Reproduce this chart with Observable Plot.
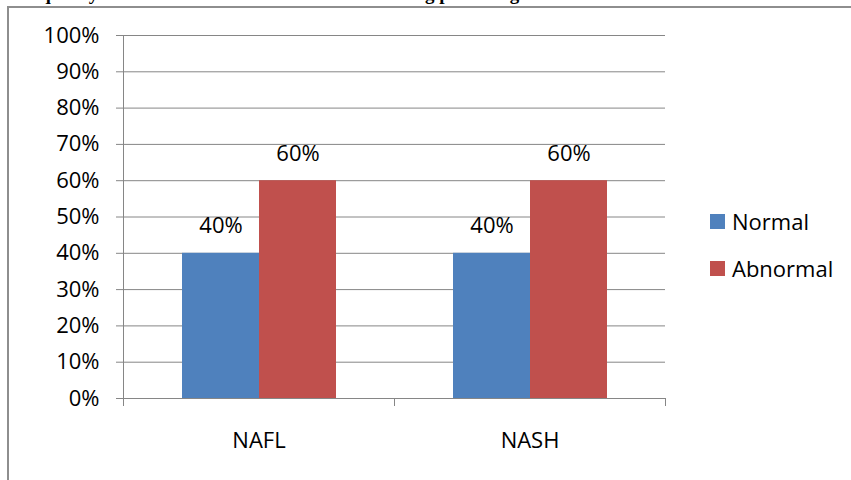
<!DOCTYPE html>
<html>
<head>
<meta charset="utf-8">
<script src="https://cdn.jsdelivr.net/npm/d3@7"></script>
<script src="https://cdn.jsdelivr.net/npm/@observablehq/plot@0.6"></script>
<style>
  body { margin: 0; background: #fff; }
  #wrap { position: relative; width: 851px; height: 480px; overflow: hidden; font-family: "Open Sans", sans-serif; color: #000; }
  #title { position: absolute; left: 12px; top: -17px; font: bold 19px "Liberation Serif", serif; white-space: nowrap; }
  #border { position: absolute; left: 7px; top: 6px; width: 900px; height: 600px; border-left: 2px solid #8e8e8e; border-top: 2px solid #8e8e8e; }
  #chart { position: absolute; left: 0; top: 0; }
  #legend { position: absolute; left: 710px; top: 205px; font-size: 22px; }
  .row { display: flex; align-items: center; height: 32px; margin-bottom: 15px; }
  .sw { width: 15px; height: 15px; margin-right: 7px; }
</style>
</head>
<body>
<div id="wrap">
  <div id="title">Frequency of abnormal liver function test according percentage</div>
  <div id="border"></div>
  <div id="chart"></div>
  <div id="legend"></div>
</div>
<script>
// Liver test results by disease group
const categories = ["NAFL", "NASH"];
const series = ["Normal", "Abnormal"];
const normal = [0.40, 0.40];
const abnormal = [0.60, 0.60];
const colors = ["#4F81BD", "#C0504D"];
const yTicks = [0, 0.1, 0.2, 0.3, 0.4, 0.5, 0.6, 0.7, 0.8, 0.9, 1.0];

const pct = d3.format(".0%");
const rows = categories.flatMap((c, i) => [
  {category: c, group: series[0], value: normal[i]},
  {category: c, group: series[1], value: abnormal[i]}
]);

const axisGray = "#868686";

const chart = Plot.plot({
  width: 851,
  height: 480,
  marginLeft: 122,
  marginRight: 186,
  marginTop: 35,
  marginBottom: 82,
  style: {fontFamily: "Open Sans", fontSize: "22px", color: "#000", background: "transparent"},
  fx: {domain: categories, padding: 0, label: null, axis: null},
  x: {domain: series, paddingInner: 0, paddingOuter: 0.744, axis: null},
  y: {domain: [0, 1], axis: null},
  color: {domain: series, range: colors},
  marks: [
    Plot.gridY(yTicks, {stroke: axisGray, strokeOpacity: 1, strokeWidth: 1}),
    Plot.barY(rows, {fx: "category", x: "group", y: "value", fill: "group"}),
    Plot.text(rows, {fx: "category", x: "group", y: "value", text: d => pct(d.value), dy: -27, fontSize: 22, fill: "#000"}),
    Plot.axisY(yTicks, {tickFormat: pct, tickSize: 7, tickPadding: 17, stroke: axisGray, fill: "#000", fontSize: 22, label: null}),
    Plot.axisFx({anchor: "bottom", tickSize: 0, tickPadding: 34, fontSize: 22, fill: "#000", label: null})
  ]
});

// Axis line and category boundary ticks from the chart's own scales
const fx = chart.scale("fx");
const y = chart.scale("y");
const y0 = y.apply(0), y1 = y.apply(1);
const bounds = categories.map(c => fx.apply(c)).concat([fx.apply(categories[categories.length - 1]) + fx.bandwidth]);
const svg = d3.select(chart);
const g = svg.append("g").attr("stroke", axisGray).attr("stroke-width", 1);
g.append("line").attr("x1", bounds[0] + 0.5).attr("x2", bounds[0] + 0.5).attr("y1", y1).attr("y2", y0 + 8);
bounds.forEach(b => g.append("line").attr("x1", b + 0.5).attr("x2", b + 0.5).attr("y1", y0).attr("y2", y0 + 8));

document.getElementById("chart").append(chart);

// Legend
const legend = d3.select("#legend");
series.forEach((s, i) => {
  const row = legend.append("div").attr("class", "row");
  row.append("div").attr("class", "sw").style("background", colors[i]);
  row.append("span").text(s);
});
</script>
</body>
</html>
